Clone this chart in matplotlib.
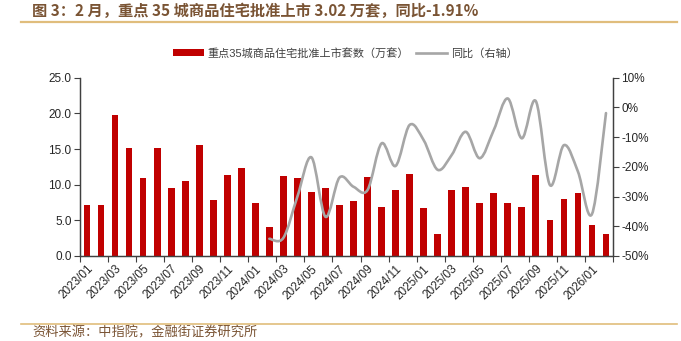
import numpy as np
import matplotlib
matplotlib.use("Agg")
import matplotlib.pyplot as plt
from matplotlib.path import Path
from matplotlib.patches import PathPatch, Patch
from matplotlib.lines import Line2D
from matplotlib.ticker import FuncFormatter

plt.rcParams['font.family'] = ['Liberation Sans', 'Noto Sans CJK SC', 'DejaVu Sans']

# ---- data ----
months = ['2023/01', '2023/02', '2023/03', '2023/04', '2023/05', '2023/06',
          '2023/07', '2023/08', '2023/09', '2023/10', '2023/11', '2023/12',
          '2024/01', '2024/02', '2024/03', '2024/04', '2024/05', '2024/06',
          '2024/07', '2024/08', '2024/09', '2024/10', '2024/11', '2024/12',
          '2025/01', '2025/02', '2025/03', '2025/04', '2025/05', '2025/06',
          '2025/07', '2025/08', '2025/09', '2025/10', '2025/11', '2025/12',
          '2026/01', '2026/02']

# approved listings of commodity housing, 35 key cities (10k units)
supply = [7.2, 7.1, 19.8, 15.2, 10.9, 15.2, 9.5, 10.5, 15.5, 7.85, 11.4, 12.3,
          7.5, 4.0, 11.2, 10.9, 9.0, 9.6, 7.2, 7.7, 11.1, 6.9, 9.2, 11.5,
          6.7, 3.08, 9.25, 9.7, 7.5, 8.8, 7.4, 6.9, 11.35, 5.1, 8.0, 8.9,
          4.35, 3.02]

# year-over-year change (%), available from 2024/02 onward
yoy_start = 13
yoy = [-44.2, -43.9, -30.0, -16.8, -36.8, -23.6, -26.7, -27.8, -12.1, -19.7,
       -5.9, -11.0, -21.0, -16.0, -8.2, -17.1, -7.6, 3.0, -10.4, 2.1,
       -26.1, -12.7, -21.6, -35.9, -1.91]

title = '图 3：2 月，重点 35 城商品住宅批准上市 3.02 万套，同比-1.91%'
bar_label = '重点35城商品住宅批准上市套数（万套）'
line_label = '同比（右轴）'
source = '资料来源：中指院，金融街证券研究所'

BAR_RED = '#c00000'
LINE_GRAY = '#a6a6a6'
BROWN = '#7a5434'
GOLD = '#e0bd7c'
AXIS = '#404040'


def smooth_path(xs, ys):
    """Catmull-Rom style cubic Bezier through the points."""
    pts = np.column_stack([xs, ys]).astype(float)
    n = len(pts)
    verts = [pts[0]]
    codes = [Path.MOVETO]
    for i in range(n - 1):
        p0 = pts[i - 1] if i > 0 else pts[i]
        p1 = pts[i]
        p2 = pts[i + 1]
        p3 = pts[i + 2] if i + 2 < n else pts[i + 1]
        c1 = p1 + (p2 - p0) / 6.0
        c2 = p2 - (p3 - p1) / 6.0
        verts += [c1, c2, p2]
        codes += [Path.CURVE4] * 3
    return Path(verts, codes)


fig = plt.figure(figsize=(6.81, 3.41), dpi=100)
ax = fig.add_axes([80 / 681, 1 - 256 / 341, (613 - 80) / 681, (256 - 77.7) / 341])
ax2 = ax.twinx()

x = np.arange(len(months))
ax.bar(x, supply, width=0.48, color=BAR_RED, zorder=2)
ax.set_xlim(-0.5, len(months) - 0.5)
ax.set_ylim(0, 25)
ax.set_yticks(np.arange(0, 25.1, 5))
ax.yaxis.set_major_formatter(FuncFormatter(lambda v, p: f'{v:.1f}'))

# category labels every two months; tick marks sit on category boundaries
ax.set_xticks(x[::2])
ax.set_xticklabels(months[::2], rotation=45, ha='right', va='top',
                   rotation_mode='anchor', fontsize=8.5, color='#262626')
ax.set_xticks(np.arange(-0.5, len(months), 2), minor=True)
ax.tick_params(axis='x', which='major', length=0, pad=5)
ax.tick_params(axis='x', which='minor', length=4, width=0.8, color=AXIS, direction='out')
ax.tick_params(axis='y', length=4, width=0.8, color=AXIS, labelsize=8.5,
               labelcolor='#262626', pad=2)

ax2.set_ylim(-50, 10)
ax2.set_yticks(np.arange(-50, 10.1, 10))
ax2.yaxis.set_major_formatter(FuncFormatter(lambda v, p: f'{v:.0f}%'))
ax2.tick_params(axis='y', length=4, width=0.8, color=AXIS, labelsize=8.5,
                labelcolor='#262626', pad=2)

yoy_x = np.arange(yoy_start, yoy_start + len(yoy))
ax2.add_patch(PathPatch(smooth_path(yoy_x, yoy), fill=False, edgecolor=LINE_GRAY,
                        lw=1.9, capstyle='round', joinstyle='round', zorder=3))

for a in (ax, ax2):
    a.spines['top'].set_visible(False)
    for s in ('left', 'right', 'bottom'):
        a.spines[s].set_color(AXIS)
        a.spines[s].set_linewidth(0.9)

# legend
handles = [Patch(facecolor=BAR_RED, edgecolor='none'),
           Line2D([0], [0], color=LINE_GRAY, lw=1.9)]
fig.legend(handles, [bar_label, line_label], loc='center',
           bbox_to_anchor=(345 / 681, 1 - 53 / 341), ncol=2, frameon=False,
           fontsize=8, handlelength=2.8, handleheight=0.7, columnspacing=0.6,
           handletextpad=0.35, labelcolor='#404040')

# title, rules and source note
fig.text(32 / 681, 1 - 11 / 341, title, fontsize=11, fontweight='bold', color=BROWN,
         ha='left', va='center', family=['Noto Sans CJK SC', 'DejaVu Sans'])
fig.add_artist(Line2D([21 / 681, 677 / 681], [1 - 22 / 341] * 2, color=GOLD, lw=1.6))
fig.add_artist(Line2D([21 / 681, 677 / 681], [1 - 324 / 341] * 2, color=GOLD, lw=1.2))
fig.text(32 / 681, 1 - 333 / 341, source, fontsize=9.5, color=BROWN,
         ha='left', va='center', family=['Noto Sans CJK SC', 'DejaVu Sans'])

fig.savefig('out.png', dpi=100)
